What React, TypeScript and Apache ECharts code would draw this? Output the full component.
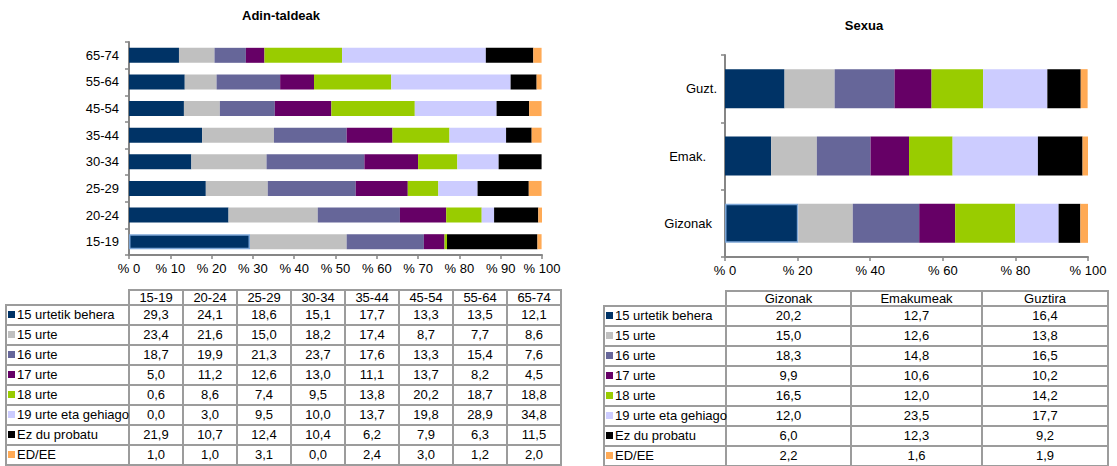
import React, { useEffect, useRef } from "react";
import * as echarts from "echarts";

// ---- Data ----
const ageCategories = ["15-19", "20-24", "25-29", "30-34", "35-44", "45-54", "55-64", "65-74"];
const sexCategories = ["Gizonak", "Emak.", "Guzt."];
const sexTableHeaders = ["Gizonak", "Emakumeak", "Guztira"];
const ageTicks = [0, 10, 20, 30, 40, 50, 60, 70, 80, 90, 100];
const sexTicks = [0, 20, 40, 60, 80, 100];

const seriesNames = [
  "15 urtetik behera",
  "15 urte",
  "16 urte",
  "17 urte",
  "18 urte",
  "19 urte eta gehiago",
  "Ez du probatu",
  "ED/EE",
];
const seriesColors = ["#003366", "#C0C0C0", "#666699", "#660066", "#99CC00", "#CCCCFF", "#000000", "#FFAA55"];

// Adin-taldeak (order of ageCategories)
const ageUnder15 = [29.3, 24.1, 18.6, 15.1, 17.7, 13.3, 13.5, 12.1];
const age15 = [23.4, 21.6, 15.0, 18.2, 17.4, 8.7, 7.7, 8.6];
const age16 = [18.7, 19.9, 21.3, 23.7, 17.6, 13.3, 15.4, 7.6];
const age17 = [5.0, 11.2, 12.6, 13.0, 11.1, 13.7, 8.2, 4.5];
const age18 = [0.6, 8.6, 7.4, 9.5, 13.8, 20.2, 18.7, 18.8];
const age19plus = [0.0, 3.0, 9.5, 10.0, 13.7, 19.8, 28.9, 34.8];
const ageNever = [21.9, 10.7, 12.4, 10.4, 6.2, 7.9, 6.3, 11.5];
const ageNoAnswer = [1.0, 1.0, 3.1, 0.0, 2.4, 3.0, 1.2, 2.0];

// Sexua (Gizonak, Emakumeak, Guztira)
const sexUnder15 = [20.2, 12.7, 16.4];
const sex15 = [15.0, 12.6, 13.8];
const sex16 = [18.3, 14.8, 16.5];
const sex17 = [9.9, 10.6, 10.2];
const sex18 = [16.5, 12.0, 14.2];
const sex19plus = [12.0, 23.5, 17.7];
const sexNever = [6.0, 12.3, 9.2];
const sexNoAnswer = [2.2, 1.6, 1.9];

const ageSeries = [ageUnder15, age15, age16, age17, age18, age19plus, ageNever, ageNoAnswer];
const sexSeries = [sexUnder15, sex15, sex16, sex17, sex18, sex19plus, sexNever, sexNoAnswer];

const FONT = "'Liberation Sans', Arial, sans-serif";
const fmt = (v: number) => v.toFixed(1).replace(".", ",");

function DataTable(props: {
  left: number;
  top: number;
  labelWidth: number;
  colWidths: number[];
  headers: string[];
  rows: number[][];
}) {
  const { left, top, labelWidth, colWidths, headers, rows } = props;
  const border = "2px solid #9c9c9c";
  const total = labelWidth + colWidths.reduce((a, b) => a + b, 0);
  return (
    <table
      style={{
        position: "absolute",
        left,
        top,
        width: total,
        borderCollapse: "collapse",
        tableLayout: "fixed",
        fontFamily: FONT,
        fontSize: 13,
        color: "#000",
      }}
    >
      <colgroup>
        <col style={{ width: labelWidth }} />
        {colWidths.map((w, i) => (
          <col key={i} style={{ width: w }} />
        ))}
      </colgroup>
      <tbody>
        <tr style={{ height: 15 }}>
          <td style={{ border: "none", padding: 0 }}></td>
          {headers.map((h) => (
            <td key={h} style={{ border, padding: 0, textAlign: "center", lineHeight: "13px" }}>
              {h}
            </td>
          ))}
        </tr>
        {seriesNames.map((name, r) => (
          <tr key={name} style={{ height: 20 }}>
            <td style={{ border, padding: "0 0 0 1px", whiteSpace: "nowrap", overflow: "visible", lineHeight: "16px" }}>
              <span
                style={{
                  display: "inline-block",
                  width: 7,
                  height: 7,
                  background: seriesColors[r],
                  marginRight: 2,
                  verticalAlign: "1px",
                }}
              />
              {name}
            </td>
            {rows[r].map((v, c) => (
              <td key={c} style={{ border, padding: 0, textAlign: "center", lineHeight: "16px" }}>
                {fmt(v)}
              </td>
            ))}
          </tr>
        ))}
      </tbody>
    </table>
  );
}

export default function App() {
  const ref = useRef<HTMLDivElement>(null);

  useEffect(() => {
    if (!ref.current) return;
    const chart = echarts.init(ref.current, null, { renderer: "svg" });
    const axisLine = { show: true, lineStyle: { color: "#868686", width: 2 } };
    const axisTick = { show: true, length: 4, lineStyle: { color: "#868686", width: 1.5 } };
    const labelStyle = { color: "#000", fontSize: 13, fontFamily: FONT };
    const sexLabelPad = [5, 11, 0];

    const series: any[] = [];
    seriesNames.forEach((name, i) => {
      series.push({
        name,
        type: "bar",
        stack: "age",
        xAxisIndex: 0,
        yAxisIndex: 0,
        barWidth: 15,
        itemStyle: { color: seriesColors[i] },
        data: ageSeries[i].map((v, j) =>
          i === 0 && j === 0
            ? { value: v, itemStyle: { borderColor: "#7da6d6", borderWidth: 1.5 } }
            : v
        ),
      });
      series.push({
        name,
        type: "bar",
        stack: "sex",
        xAxisIndex: 1,
        yAxisIndex: 1,
        barWidth: 39,
        itemStyle: { color: seriesColors[i] },
        data: sexSeries[i].map((v, j) =>
          i === 0 && j === 0
            ? { value: v, itemStyle: { borderColor: "#7da6d6", borderWidth: 1.5 } }
            : v
        ),
      });
    });

    chart.setOption({
      animation: false,
      textStyle: { fontFamily: FONT },
      title: [
        {
          text: "Adin-taldeak",
          left: 276,
          top: 4,
          textAlign: "center",
          textStyle: { fontSize: 13, fontWeight: "bold", color: "#000", fontFamily: FONT },
        },
        {
          text: "Sexua",
          left: 859,
          top: 14,
          textAlign: "center",
          textStyle: { fontSize: 13, fontWeight: "bold", color: "#000", fontFamily: FONT },
        },
      ],
      grid: [
        { left: 129, top: 42, width: 413, height: 213 },
        { left: 725, top: 55, width: 363, height: 202 },
      ],
      xAxis: [
        {
          gridIndex: 0,
          type: "value",
          min: ageTicks[0],
          max: ageTicks[ageTicks.length - 1],
          interval: ageTicks[1] - ageTicks[0],
          splitLine: { show: false },
          axisLine,
          axisTick,
          axisLabel: { ...labelStyle, margin: 7, formatter: (v: number) => "% " + v },
        },
        {
          gridIndex: 1,
          type: "value",
          min: sexTicks[0],
          max: sexTicks[sexTicks.length - 1],
          interval: sexTicks[1] - sexTicks[0],
          splitLine: { show: false },
          axisLine,
          axisTick,
          axisLabel: { ...labelStyle, margin: 7, formatter: (v: number) => "% " + v },
        },
      ],
      yAxis: [
        {
          gridIndex: 0,
          type: "category",
          data: ageCategories,
          axisLine,
          axisTick,
          axisLabel: { ...labelStyle, margin: 10 },
        },
        {
          gridIndex: 1,
          type: "category",
          data: sexCategories.map((c, i) => ({
            value: c,
            textStyle: { padding: [0, sexLabelPad[i], 0, 0] },
          })),
          axisLine,
          axisTick,
          axisLabel: { ...labelStyle, margin: 8 },
        },
      ],
      series,
    });
    return () => chart.dispose();
  }, []);

  return (
    <div style={{ position: "absolute", left: 0, top: 0, width: 1117, height: 466, background: "#fff" }}>
      <div ref={ref} style={{ position: "absolute", left: 0, top: 0, width: 1117, height: 285 }} />
      <DataTable
        left={5}
        top={289}
        labelWidth={123}
        colWidths={[54, 54, 54, 54, 54, 54, 54, 54]}
        headers={ageCategories}
        rows={ageSeries}
      />
      <DataTable
        left={603}
        top={290}
        labelWidth={122}
        colWidths={[125, 131, 126]}
        headers={sexTableHeaders}
        rows={sexSeries}
      />
    </div>
  );
}
